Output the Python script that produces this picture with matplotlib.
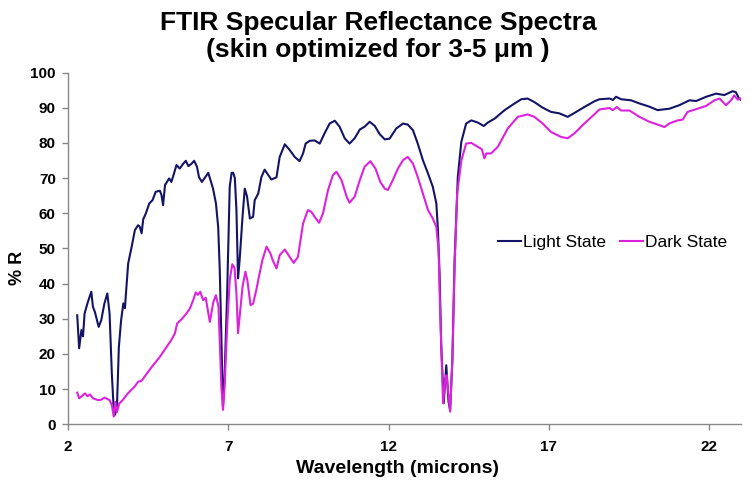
import matplotlib
matplotlib.use('Agg')
import matplotlib.pyplot as plt

# values (wavelength in microns, % reflectance)
light_wl = [2.28, 2.34, 2.41, 2.46, 2.51, 2.60, 2.67, 2.72, 2.77, 2.83, 2.95, 3.03, 3.13, 3.22,
            3.29, 3.36, 3.42, 3.46, 3.52, 3.58, 3.65, 3.72, 3.77, 3.80, 3.87, 3.98, 4.08, 4.18,
            4.23, 4.29, 4.34, 4.42, 4.53, 4.63, 4.73, 4.86, 4.91, 4.96, 5.02, 5.15, 5.22, 5.30,
            5.38, 5.48, 5.59, 5.67, 5.75, 5.85, 5.93, 6.02, 6.08, 6.17, 6.25, 6.37, 6.44, 6.52,
            6.61, 6.68, 6.73, 6.78, 6.83, 6.88, 6.96, 7.04, 7.10, 7.15, 7.20, 7.25, 7.30, 7.35,
            7.44, 7.51, 7.58, 7.67, 7.77, 7.82, 7.93, 8.03, 8.13, 8.24, 8.34, 8.50, 8.60, 8.76,
            8.91, 9.07, 9.22, 9.33, 9.41, 9.54, 9.69, 9.85, 10.00, 10.16, 10.32, 10.47, 10.63,
            10.78, 10.94, 11.10, 11.25, 11.41, 11.57, 11.72, 11.88, 12.03, 12.24, 12.45, 12.60,
            12.76, 12.91, 13.07, 13.23, 13.38, 13.49, 13.54, 13.59, 13.64, 13.72, 13.80, 13.87,
            13.92, 13.99, 14.06, 14.16, 14.27, 14.42, 14.58, 14.78, 14.97, 15.10, 15.31, 15.62,
            15.88, 16.14, 16.34, 16.55, 16.81, 17.07, 17.33, 17.59, 17.80, 18.11, 18.42, 18.58,
            18.90, 19.00, 19.10, 19.26, 19.57, 19.83, 20.14, 20.40, 20.56, 20.76, 21.07, 21.39,
            21.60, 21.91, 22.22, 22.48, 22.74, 22.84, 22.94, 22.98]
light_r = [31.0, 21.6, 26.8, 25.0, 31.5, 34.4, 36.3, 37.7, 33.4, 32.0, 27.7, 29.6, 34.4, 37.2,
           31.5, 14.5, 4.1, 2.7, 5.0, 22.0, 29.6, 34.4, 33.0, 37.0, 45.7, 50.5, 55.2, 56.6,
           56.2, 54.3, 58.3, 59.9, 62.8, 63.7, 66.1, 66.4, 65.2, 62.3, 68.0, 69.9, 68.9, 71.3,
           73.7, 72.7, 74.1, 74.9, 73.4, 74.1, 74.9, 73.2, 70.3, 68.9, 69.9, 71.5, 69.4, 67.0,
           62.8, 56.1, 43.8, 25.0, 5.0, 13.5, 37.2, 67.5, 71.5, 71.5, 70.0, 60.9, 41.5, 46.7,
           59.0, 67.0, 64.8, 58.5, 59.0, 63.7, 65.6, 70.3, 72.4, 70.9, 69.6, 70.2, 76.0, 79.6,
           78.0, 76.0, 74.8, 77.0, 79.8, 80.6, 80.7, 79.8, 82.7, 85.5, 86.3, 84.6, 81.3,
           79.8, 81.3, 83.8, 84.6, 86.0, 84.8, 82.5, 81.0, 81.2, 84.1, 85.5, 85.2,
           83.6, 79.8, 75.1, 71.3, 67.5, 62.8, 55.2, 43.0, 23.0, 6.0, 16.8, 6.5,
           4.0, 18.3, 46.7, 70.3, 80.3, 85.5, 86.4, 85.8, 84.8, 85.8, 86.9, 89.3,
           90.9, 92.4, 92.6, 91.6, 90.0, 88.8, 88.4, 87.4, 88.5, 90.2, 91.8, 92.4,
           92.6, 92.2, 93.1, 92.4, 92.1, 91.2, 90.3, 89.3, 89.5, 89.7, 90.7, 92.1,
           91.9, 93.1, 94.0, 93.6, 94.7, 94.4, 92.6, 92.3]

dark_wl = [2.28, 2.34, 2.41, 2.46, 2.52, 2.60, 2.68, 2.77, 2.93, 3.03, 3.13, 3.29, 3.36, 3.42,
           3.47, 3.52, 3.59, 3.70, 3.86, 4.07, 4.18, 4.29, 4.49, 4.65, 4.86, 5.07, 5.22, 5.33,
           5.40, 5.53, 5.69, 5.80, 5.90, 5.98, 6.05, 6.12, 6.21, 6.29, 6.42, 6.53, 6.61, 6.69,
           6.73, 6.78, 6.83, 6.88, 6.96, 7.04, 7.12, 7.19, 7.25, 7.30, 7.35, 7.44, 7.53, 7.59,
           7.69, 7.77, 7.87, 7.93, 8.06, 8.19, 8.31, 8.38, 8.50, 8.60, 8.76, 8.91, 9.04, 9.17,
           9.33, 9.48, 9.59, 9.69, 9.83, 9.95, 10.11, 10.26, 10.37, 10.53, 10.69, 10.78, 10.94,
           11.10, 11.25, 11.43, 11.59, 11.74, 11.88, 11.98, 12.13, 12.29, 12.45, 12.60, 12.76,
           12.91, 13.07, 13.23, 13.38, 13.49, 13.56, 13.60, 13.66, 13.70, 13.77, 13.81, 13.87,
           13.92, 13.99, 14.06, 14.14, 14.27, 14.42, 14.58, 14.78, 14.91, 14.99, 15.05, 15.20,
           15.41, 15.72, 16.03, 16.34, 16.55, 16.81, 17.07, 17.38, 17.59, 17.80, 18.11, 18.42,
           18.58, 18.90, 19.00, 19.12, 19.26, 19.52, 19.83, 20.14, 20.40, 20.61, 20.76, 21.02,
           21.18, 21.33, 21.60, 21.91, 22.17, 22.33, 22.53, 22.69, 22.79, 22.90, 22.98]
dark_r = [9.0, 7.4, 7.9, 8.3, 8.8, 8.0, 8.5, 7.4, 6.9, 7.0, 7.6, 6.9, 5.5, 2.2,
          6.4, 3.5, 5.9, 6.9, 8.8, 10.7, 12.1, 12.4, 14.9, 16.8, 19.2, 22.0, 24.0, 25.9,
          28.7, 29.8, 31.5, 33.0, 35.3, 37.5, 36.8, 37.7, 35.3, 36.0, 29.1, 34.8, 36.7, 33.4,
          23.0, 10.7, 4.1, 10.7, 27.7, 41.0, 45.5, 44.5, 37.2, 25.9, 30.6, 39.1, 43.4, 41.0,
          33.9, 34.3, 38.2, 41.0, 46.7, 50.5, 48.6, 46.7, 44.3, 48.1, 49.7, 47.6, 45.9, 47.6,
          57.1, 60.9, 60.4, 59.0, 57.3, 59.9, 66.6, 70.8, 71.8, 69.4, 64.7, 63.0, 64.7,
          69.4, 73.2, 74.8, 72.7, 68.9, 67.0, 66.6, 69.4, 72.7, 75.1, 76.0, 74.1,
          70.3, 65.6, 60.9, 58.5, 56.1, 49.5, 35.0, 18.0, 6.0, 12.6, 14.0, 8.5,
          3.6, 18.3, 44.8, 65.6, 75.0, 79.8, 80.0, 78.9, 78.2, 75.6, 77.0, 77.0,
          78.9, 84.1, 87.4, 88.1, 87.4, 85.5, 83.1, 81.7, 81.3, 82.7, 85.5, 88.1,
          89.5, 89.9, 89.3, 90.2, 89.2, 89.2, 87.4, 86.0, 85.2, 84.5, 85.5, 86.4,
          86.6, 88.8, 89.6, 90.5, 92.1, 92.6, 90.7, 92.1, 93.5, 92.3, 92.6]

x_ticks = [2, 7, 12, 17, 22]
y_ticks = [0, 10, 20, 30, 40, 50, 60, 70, 80, 90, 100]

plt.rcParams['font.family'] = ['Liberation Sans', 'DejaVu Sans']

fig = plt.figure(figsize=(7.5, 4.9), dpi=100)
ax = fig.add_axes([0.091, 0.134, 0.897, 0.718])

ax.plot(light_wl, light_r, color='#141466', lw=1.5, label='Light State')
ax.plot(dark_wl, dark_r, color='#dd22dd', lw=1.5, label='Dark State')

ax.set_xlim(2, 23)
ax.set_ylim(0, 100)
ax.set_xticks(x_ticks)
ax.set_yticks(y_ticks)

for side in ['top', 'right']:
    ax.spines[side].set_visible(False)
for side in ['left', 'bottom']:
    ax.spines[side].set_color('#888888')
    ax.spines[side].set_linewidth(1.0)
ax.tick_params(direction='out', length=4, width=1, color='#888888', labelsize=11)
ax.tick_params(axis='x', pad=7)
ax.tick_params(axis='y', pad=5)
for lbl in ax.get_xticklabels() + ax.get_yticklabels():
    lbl.set_fontweight('bold')

ax.set_xlabel('Wavelength (microns)', fontsize=14, fontweight='bold')
ax.xaxis.set_label_coords(0.49, -0.10)
ax.set_ylabel('% R', fontsize=13, fontweight='bold')
ax.yaxis.set_label_coords(-0.063, 0.445)

ax.legend(loc='center left', bbox_to_anchor=(0.639, 0.516), ncol=2, frameon=False,
          fontsize=12.5, handlelength=1.3, handletextpad=0.15, columnspacing=0.8,
          borderpad=0, borderaxespad=0)

fig.text(0.504, 0.925, 'FTIR Specular Reflectance Spectra\n(skin optimized for 3-5 \u03bcm )',
         ha='center', va='center', fontsize=19, fontweight='bold', linespacing=1.15)

plt.savefig('out.png', dpi=100)
